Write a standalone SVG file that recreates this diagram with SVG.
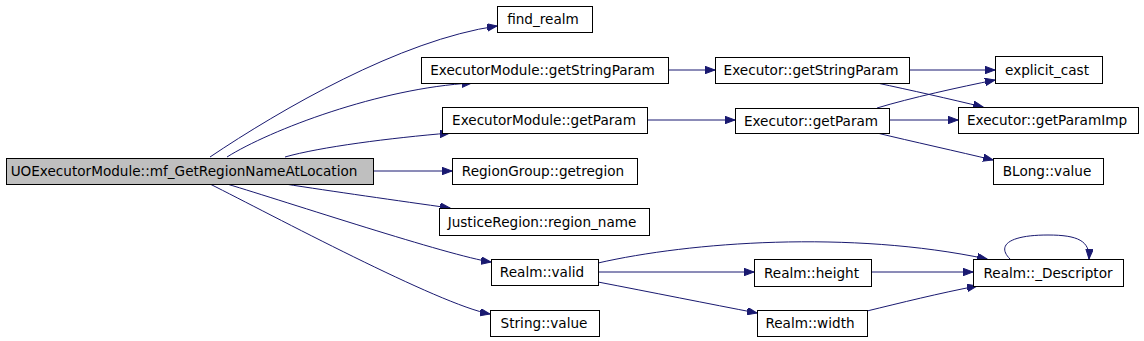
<svg xmlns="http://www.w3.org/2000/svg" width="1144" height="341" viewBox="0 0 1144 341">
<style>
.n rect{fill:#ffffff;stroke:#000000;stroke-width:1}
.n.root rect{fill:#bfbfbf}
.n text{font-family:"DejaVu Sans",sans-serif;font-size:13.6px;fill:#000000;text-anchor:middle}
.e path{fill:none;stroke:#191970;stroke-width:1;marker-end:url(#ah)}
</style>
<defs>
<marker id="ah" markerUnits="userSpaceOnUse" markerWidth="11" markerHeight="8" refX="10" refY="3.75" orient="auto">
<path d="M0,0 L10,3.75 L0,7.5 z" fill="#191970" stroke="#191970" stroke-width="1"/>
</marker>
</defs>
<rect width="1144" height="341" fill="#ffffff"/>
<g id="edges" class="e">
<path d="M210,157 C280,110 400,40 497,26"/>
<path d="M227,157 C270,130 380,88 472,83"/>
<path d="M285,157 C320,147 390,138 450,133"/>
<path d="M373,171 L452,171"/>
<path d="M285,184 C330,191 400,201 450,208"/>
<path d="M227,184 C287,202 450,256 491,262"/>
<path d="M210,184 C270,214 440,305 490,314"/>
<path d="M668,70 L715,70"/>
<path d="M647,120 L735,120"/>
<path d="M909,70 L995,70"/>
<path d="M877,83 C910,90 950,99 983,107"/>
<path d="M877,108 C910,98 960,87 995,80"/>
<path d="M889,120 L958,120"/>
<path d="M877,133 C910,141 960,152 993,160"/>
<path d="M598,272 L754,272"/>
<path d="M598,282 C650,292 710,304 757,313"/>
<path d="M598,263 C690,242 850,230 987,259"/>
<path d="M871,272 L973,272"/>
<path d="M867,311 C900,303 940,293 977,286"/>
<path d="M1010,259 C996,245 1010,235 1048,235 C1078,235 1090,241 1089,259"/>
</g>
<g id="n_main" class="n root"><rect x="6.5" y="158.5" width="367" height="26"/><text x="184" y="176">UOExecutorModule::mf_GetRegionNameAtLocation</text></g>
<g id="n_find_realm" class="n"><rect x="497.5" y="6.5" width="95" height="26"/><text x="543" y="24">find_realm</text></g>
<g id="n_em_getStringParam" class="n"><rect x="421.5" y="57.5" width="247" height="26"/><text x="542.5" y="75">ExecutorModule::getStringParam</text></g>
<g id="n_em_getParam" class="n"><rect x="442.5" y="107.5" width="205" height="26"/><text x="544" y="125">ExecutorModule::getParam</text></g>
<g id="n_getregion" class="n"><rect x="452.5" y="158.5" width="185" height="26"/><text x="543" y="176">RegionGroup::getregion</text></g>
<g id="n_region_name" class="n"><rect x="439.5" y="208.5" width="210" height="27"/><text x="542" y="226.5">JusticeRegion::region_name</text></g>
<g id="n_valid" class="n"><rect x="491.5" y="259.5" width="107" height="26"/><text x="542" y="277">Realm::valid</text></g>
<g id="n_string_value" class="n"><rect x="490.5" y="310.5" width="109" height="26"/><text x="544" y="328">String::value</text></g>
<g id="n_ex_getStringParam" class="n"><rect x="715.5" y="57.5" width="194" height="26"/><text x="811" y="75">Executor::getStringParam</text></g>
<g id="n_ex_getParam" class="n"><rect x="735.5" y="108.5" width="154" height="25"/><text x="811" y="125.5">Executor::getParam</text></g>
<g id="n_explicit_cast" class="n"><rect x="995.5" y="56.5" width="107" height="27"/><text x="1047" y="74.5">explicit_cast</text></g>
<g id="n_getParamImp" class="n"><rect x="958.5" y="107.5" width="180" height="26"/><text x="1047" y="125">Executor::getParamImp</text></g>
<g id="n_blong_value" class="n"><rect x="993.5" y="158.5" width="110" height="26"/><text x="1047" y="176">BLong::value</text></g>
<g id="n_height" class="n"><rect x="754.5" y="259.5" width="117" height="27"/><text x="811.5" y="277.5">Realm::height</text></g>
<g id="n_width" class="n"><rect x="757.5" y="310.5" width="110" height="26"/><text x="810" y="328">Realm::width</text></g>
<g id="n_descriptor" class="n"><rect x="973.5" y="259.5" width="150" height="27"/><text x="1048" y="277.5">Realm::_Descriptor</text></g>
</svg>
